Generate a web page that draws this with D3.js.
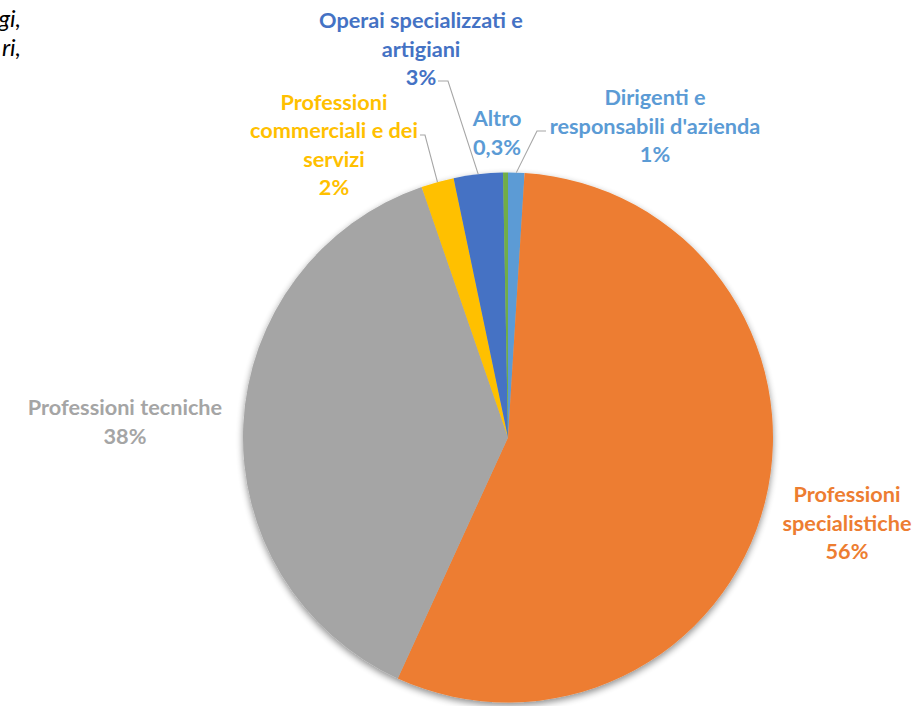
<!DOCTYPE html>
<html>
<head>
<meta charset="utf-8">
<script src="https://cdn.jsdelivr.net/npm/d3@7"></script>
<style>
  html, body { margin: 0; padding: 0; background: #ffffff; }
  svg { display: block; }
  text { font-family: Lato, "Open Sans", sans-serif; }
</style>
</head>
<body>
<svg id="chart" width="920" height="706"></svg>
<script>
// Occupations share (pie), drawn clockwise from 12 o'clock
const categories = [
  "Dirigenti e responsabili d'azienda",
  "Professioni specialistiche",
  "Professioni tecniche",
  "Professioni commerciali e dei servizi",
  "Operai specializzati e artigiani",
  "Altro"
];
const values = [1, 56, 38, 2, 3, 0.3];
const valueLabels = ["1%", "56%", "38%", "2%", "3%", "0,3%"];
// how each category label wraps onto lines
const labelLines = [
  ["Dirigenti e", "responsabili d'azienda"],
  ["Professioni", "specialistiche"],
  ["Professioni tecniche"],
  ["Professioni", "commerciali e dei", "servizi"],
  ["Operai specializzati e", "artigiani"],
  ["Altro"]
];
const colors = ["#5B9BD5", "#ED7D31", "#A5A5A5", "#FFC000", "#4472C4", "#70AD47"];
const labelColors = ["#5B9BD5", "#ED7D31", "#A5A5A5", "#FFC000", "#4472C4", "#5B9BD5"];

// Label placement relative to the pie centre (block centre), plus leader line bends
const labelLayout = [
  { dx: 147,  dy: -312, leader: [[38, -306.5], [29, -306.5]] },
  { dx: 339,  dy: 85,   leader: null },
  { dx: -383, dy: -16,  leader: null },
  { dx: -174, dy: -293, leader: [[-88, -302.5], [-83, -302.5]] },
  { dx: -87,  dy: -389, leader: [[-70, -356.5], [-60, -356.5]] },
  { dx: -11,  dy: -305, leader: null }
];

const W = 920, H = 706;
const cx = 508, cy = 437.5, R = 265;
const fontSize = 21.7, lineH = 28.3;

const svg = d3.select("#chart");

// soft drop shadow under the pie
const defs = svg.append("defs");
const f = defs.append("filter").attr("id", "pieShadow")
  .attr("x", "-10%").attr("y", "-10%").attr("width", "120%").attr("height", "120%");
f.append("feGaussianBlur").attr("in", "SourceAlpha").attr("stdDeviation", 3.5).attr("result", "b");
f.append("feOffset").attr("in", "b").attr("dx", 0).attr("dy", 2.5).attr("result", "o");
f.append("feComponentTransfer").attr("in", "o").attr("result", "s")
  .append("feFuncA").attr("type", "linear").attr("slope", 0.45);
const m = f.append("feMerge");
m.append("feMergeNode").attr("in", "s");
m.append("feMergeNode").attr("in", "SourceGraphic");

// fragment of surrounding document text at the top-left corner
const side = svg.append("g").attr("font-style", "italic").attr("font-size", 24)
  .attr("fill", "#000").attr("text-anchor", "end");
side.append("text").attr("x", 21).attr("y", 27).text("gi,");
side.append("text").attr("x", 21).attr("y", 56).text("ri,");

const data = categories.map((c, i) => ({ name: c, value: values[i], idx: i }));
const pie = d3.pie().sort(null).value(d => d.value);
const arcs = pie(data);
const arc = d3.arc().innerRadius(0).outerRadius(R);

const g = svg.append("g").attr("transform", `translate(${cx},${cy})`);
g.append("g").attr("filter", "url(#pieShadow)")
  .selectAll("path").data(arcs).join("path")
  .attr("d", arc)
  .attr("fill", d => colors[d.data.idx]);

// leader lines from labels to slice edge
const edgePoint = a => {
  const mid = (a.startAngle + a.endAngle) / 2;
  return [R * Math.sin(mid), -R * Math.cos(mid)];
};
arcs.forEach(a => {
  const L = labelLayout[a.data.idx].leader;
  if (!L) return;
  const pts = [L[0], L[1], edgePoint(a)];
  g.append("path")
    .attr("d", d3.line()(pts))
    .attr("fill", "none")
    .attr("stroke", "#A6A6A6")
    .attr("stroke-width", 1.1);
});

// data labels: category lines then percentage, bold
arcs.forEach(a => {
  const i = a.data.idx;
  const lines = labelLines[i].concat([valueLabels[i]]);
  const lay = labelLayout[i];
  const top = lay.dy - (lines.length - 1) * lineH / 2;
  const t = g.append("text")
    .attr("text-anchor", "middle")
    .attr("font-weight", 700)
    .attr("font-size", fontSize)
    .attr("fill", labelColors[i]);
  lines.forEach((ln, k) => {
    t.append("tspan")
      .attr("x", lay.dx)
      .attr("y", top + k * lineH)
      .attr("dominant-baseline", "central")
      .text(ln);
  });
});
</script>
</body>
</html>
